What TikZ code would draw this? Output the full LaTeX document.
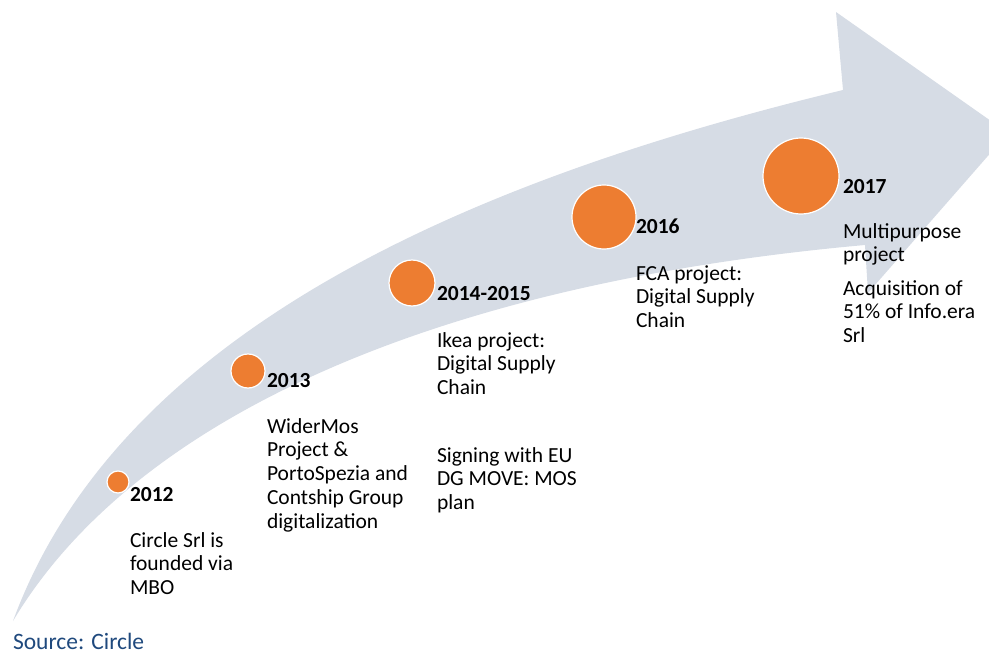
\documentclass[tikz,border=0pt]{standalone}
\usepackage{fontspec}
\setmainfont{Carlito}
\definecolor{arrowfill}{RGB}{214,220,229}
\definecolor{dotorange}{RGB}{237,125,49}
\definecolor{sourceblue}{RGB}{31,73,125}
\newcommand{\txtlines}[1]{\begin{tabular}[t]{@{}l@{}}#1\end{tabular}}
\begin{document}
\begin{tikzpicture}[x=1pt,y=-1pt,
  every node/.style={inner sep=0pt,outer sep=0pt},
  dot/.style={circle,fill=dotorange,draw=white,line width=1.2pt,minimum size=#1},
  year/.style={anchor=base west,font=\fontsize{21.5}{23.8}\selectfont\bfseries},
  desc/.style={anchor=base west,font=\fontsize{21.5}{23.8}\selectfont},
  source/.style={anchor=base west,font=\fontsize{23.5}{26}\selectfont,text=sourceblue}]
\useasboundingbox (0,0) rectangle (989,653);
\clip (0,0) rectangle (989,653);

% curved timeline arrow: upper edge, head, lower edge back to the tail
\fill[arrowfill]
  (13,621) .. controls (120,330) and (470,180) .. (843,90)
  -- (836,12) -- (1008,133) -- (868,293) -- (865,245)
  .. controls (420,285) and (130,425) .. (13,621)
  -- cycle;

% milestones
\node[dot=22pt] (c2012) at (118,482) {};
\node[dot=34pt] (c2013) at (248,371) {};
\node[dot=46pt] (c2014) at (412,283) {};
\node[dot=64pt] (c2016) at (604,217) {};
\node[dot=76pt] (c2017) at (801,176) {};

\node[year] (y2012) at (130,501) {2012};
\node[year] (y2013) at (267,387) {2013};
\node[year] (y2014) at (437,300) {2014-2015};
\node[year] (y2016) at (636,233) {2016};
\node[year] (y2017) at (843,193) {2017};

\node[desc] (d2012) at (130,547) {\txtlines{Circle Srl is\\founded via\\MBO}};
\node[desc] (d2013) at (267,433) {\txtlines{WiderMos\\Project \&\\PortoSpezia and\\Contship Group\\digitalization}};
\node[desc] (d2014a) at (437,347) {\txtlines{Ikea project:\\Digital Supply\\Chain}};
\node[desc] (d2014b) at (437,462) {\txtlines{Signing with EU\\DG MOVE: MOS\\plan}};
\node[desc] (d2016) at (636,280) {\txtlines{FCA project:\\Digital Supply\\Chain}};
\node[desc] (d2017a) at (843,238) {\txtlines{Multipurpose\\project}};
\node[desc] (d2017b) at (843,295) {\txtlines{Acquisition of\\51\% of Info.era\\Srl}};

\node[source] (src) at (13,649) {Source: Circle};
\end{tikzpicture}
\end{document}
